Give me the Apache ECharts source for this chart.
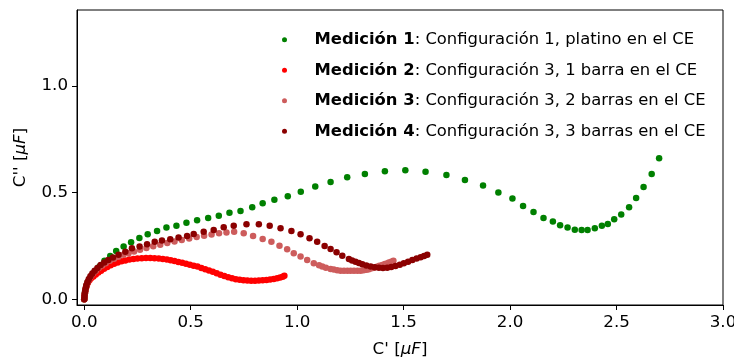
<!DOCTYPE html>
<html>
<head>
<meta charset="utf-8">
<script src="https://cdn.jsdelivr.net/npm/echarts@6/dist/echarts.min.js"></script>
<style>
  html, body { margin: 0; padding: 0; background: #fff; }
  #chart { width: 734px; height: 360px; }
</style>
</head>
<body>
<div id="chart"></div>
<script>
// series names and legend descriptions
const names = ['Medición 1', 'Medición 2', 'Medición 3', 'Medición 4']
const descriptions = [
  'Configuración 1, platino en el CE',
  'Configuración 3, 1 barra en el CE',
  'Configuración 3, 2 barras en el CE',
  'Configuración 3, 3 barras en el CE'
]
const colors = ['#008000', '#ff0000', '#cd5c5c', '#8b0000']
const xTicks = [0, 0.5, 1, 1.5, 2, 2.5, 3]
const yTicks = [0, 0.5, 1]

// [C', C''] pairs in uF
const medicion1 = [
  [0.000, 0.000], [0.001, 0.012], [0.003, 0.028], [0.006, 0.045], [0.010, 0.062], [0.016, 0.078],
  [0.024, 0.094], [0.035, 0.108], [0.048, 0.122], [0.072, 0.153], [0.095, 0.180], [0.122, 0.203],
  [0.150, 0.226], [0.185, 0.247], [0.220, 0.267], [0.259, 0.287], [0.298, 0.305], [0.342, 0.320],
  [0.386, 0.336], [0.433, 0.345], [0.480, 0.359], [0.530, 0.370], [0.582, 0.381], [0.632, 0.392],
  [0.682, 0.406], [0.734, 0.414], [0.789, 0.431], [0.838, 0.450], [0.893, 0.466], [0.956, 0.483],
  [1.017, 0.504], [1.085, 0.528], [1.157, 0.550], [1.235, 0.572], [1.318, 0.587], [1.412, 0.600],
  [1.508, 0.605], [1.603, 0.598], [1.701, 0.583], [1.788, 0.559], [1.873, 0.533], [1.945, 0.500],
  [2.011, 0.472], [2.061, 0.437], [2.110, 0.409], [2.157, 0.381], [2.201, 0.364], [2.235, 0.347],
  [2.270, 0.336], [2.304, 0.326], [2.336, 0.325], [2.364, 0.325], [2.398, 0.333], [2.431, 0.344],
  [2.459, 0.353], [2.489, 0.375], [2.522, 0.397], [2.559, 0.431], [2.592, 0.475], [2.627, 0.526],
  [2.665, 0.587], [2.700, 0.661]
]
const medicion2 = [
  [0.000, 0.000], [0.001, 0.010], [0.002, 0.020], [0.004, 0.032], [0.006, 0.044], [0.009, 0.056],
  [0.013, 0.068], [0.018, 0.080], [0.025, 0.090], [0.033, 0.099], [0.043, 0.107], [0.054, 0.116],
  [0.066, 0.125], [0.079, 0.134], [0.093, 0.143], [0.108, 0.151], [0.124, 0.159], [0.140, 0.166],
  [0.157, 0.172], [0.175, 0.178], [0.193, 0.182], [0.212, 0.186], [0.231, 0.189], [0.250, 0.191],
  [0.270, 0.192], [0.290, 0.193], [0.310, 0.193], [0.330, 0.192], [0.350, 0.191], [0.369, 0.189],
  [0.388, 0.186], [0.406, 0.183], [0.424, 0.179], [0.442, 0.175], [0.460, 0.171], [0.478, 0.166],
  [0.496, 0.162], [0.514, 0.157], [0.532, 0.153], [0.550, 0.147], [0.568, 0.141], [0.586, 0.135],
  [0.604, 0.129], [0.622, 0.122], [0.640, 0.115], [0.658, 0.109], [0.676, 0.103], [0.694, 0.098],
  [0.712, 0.094], [0.730, 0.091], [0.748, 0.089], [0.766, 0.088], [0.784, 0.087], [0.802, 0.087],
  [0.820, 0.088], [0.838, 0.089], [0.856, 0.090], [0.873, 0.092], [0.890, 0.095], [0.906, 0.098],
  [0.920, 0.102], [0.932, 0.106], [0.940, 0.110]
]
const medicion3 = [
  [0.000, 0.000], [0.001, 0.012], [0.003, 0.026], [0.005, 0.040], [0.008, 0.054], [0.012, 0.068],
  [0.017, 0.082], [0.024, 0.096], [0.032, 0.109], [0.042, 0.122], [0.054, 0.134], [0.068, 0.146],
  [0.084, 0.158], [0.101, 0.169], [0.120, 0.180], [0.140, 0.190], [0.161, 0.199], [0.184, 0.208],
  [0.208, 0.216], [0.234, 0.224], [0.262, 0.232], [0.292, 0.240], [0.324, 0.248], [0.357, 0.256],
  [0.390, 0.264], [0.424, 0.271], [0.458, 0.278], [0.493, 0.285], [0.528, 0.292], [0.563, 0.298],
  [0.598, 0.304], [0.633, 0.309], [0.668, 0.313], [0.704, 0.316], [0.749, 0.309], [0.793, 0.297],
  [0.838, 0.283], [0.879, 0.269], [0.917, 0.251], [0.953, 0.234], [0.984, 0.216], [1.016, 0.200],
  [1.047, 0.184], [1.078, 0.169], [1.103, 0.159], [1.118, 0.153], [1.135, 0.148], [1.157, 0.142],
  [1.172, 0.139], [1.188, 0.136], [1.204, 0.134], [1.220, 0.134], [1.236, 0.133], [1.251, 0.133],
  [1.267, 0.133], [1.283, 0.134], [1.298, 0.134], [1.312, 0.136], [1.326, 0.138], [1.337, 0.141],
  [1.350, 0.145], [1.362, 0.148], [1.374, 0.152], [1.386, 0.157], [1.400, 0.161], [1.412, 0.165],
  [1.422, 0.168], [1.431, 0.172], [1.442, 0.176], [1.452, 0.181]
]
const medicion4 = [
  [0.000, 0.000], [0.001, 0.012], [0.002, 0.025], [0.004, 0.038], [0.007, 0.052], [0.010, 0.066],
  [0.015, 0.080], [0.021, 0.094], [0.029, 0.108], [0.038, 0.121], [0.049, 0.134], [0.062, 0.147],
  [0.077, 0.160], [0.094, 0.172], [0.113, 0.184], [0.135, 0.196], [0.161, 0.208], [0.193, 0.223],
  [0.224, 0.239], [0.260, 0.247], [0.295, 0.258], [0.331, 0.270], [0.365, 0.275], [0.404, 0.281],
  [0.443, 0.289], [0.483, 0.297], [0.514, 0.306], [0.561, 0.316], [0.608, 0.325], [0.655, 0.338],
  [0.702, 0.344], [0.762, 0.352], [0.820, 0.352], [0.871, 0.344], [0.922, 0.333], [0.973, 0.320],
  [1.016, 0.305], [1.058, 0.286], [1.094, 0.270], [1.129, 0.250], [1.157, 0.236], [1.185, 0.220],
  [1.212, 0.204], [1.243, 0.189], [1.258, 0.182], [1.274, 0.176], [1.290, 0.170], [1.306, 0.164],
  [1.325, 0.158], [1.345, 0.153], [1.364, 0.150], [1.384, 0.148], [1.403, 0.147], [1.423, 0.148],
  [1.442, 0.151], [1.462, 0.156], [1.482, 0.162], [1.501, 0.169], [1.521, 0.176], [1.541, 0.184],
  [1.561, 0.191], [1.580, 0.197], [1.596, 0.203], [1.611, 0.208]
]
const allData = [medicion1, medicion2, medicion3, medicion4]

const font = 'DejaVu Sans'
const fontSize = 16.7
const chart = echarts.init(document.getElementById('chart'), null, { renderer: 'canvas' })

const plain = { fontFamily: font, fontSize: fontSize, color: '#000', lineHeight: 19.5 }
const richText = {
  n: plain,
  b: Object.assign({}, plain, { fontWeight: 'bold' }),
  i: Object.assign({}, plain, { fontStyle: 'italic' })
}
// legend text is a touch smaller than the axis text
const legendPlain = Object.assign({}, plain, { fontSize: 16.4 })
const legendRich = {
  n: legendPlain,
  b: Object.assign({}, legendPlain, { fontWeight: 'bold' })
}

function axisCommon (ticks) {
  return {
    type: 'value',
    nameLocation: 'middle',
    nameTextStyle: Object.assign({}, plain, { rich: richText }),
    splitLine: { show: false },
    axisLine: { show: true, onZero: false, lineStyle: { color: '#000', width: 1 } },
    axisTick: { show: true, inside: false, length: 5, customValues: ticks, lineStyle: { color: '#000' } },
    axisLabel: {
      margin: 9,
      fontFamily: font,
      fontSize: fontSize,
      color: '#000',
      customValues: ticks,
      formatter: v => v.toFixed(1)
    }
  }
}

const option = {
  animation: false,
  textStyle: { fontFamily: font },
  grid: {
    left: 77,
    right: 11,
    top: 10,
    bottom: 55,
    outerBoundsMode: 'none',
    containLabel: false,
    show: true,
    borderColor: '#000',
    borderWidth: 1
  },
  legend: {
    orient: 'vertical',
    left: 277,
    top: 25,
    icon: 'circle',
    itemWidth: 50,
    itemHeight: 5,
    itemGap: 11,
    selectedMode: false,
    data: names,
    formatter: function (name) {
      const i = names.indexOf(name)
      return '{b|' + name + '}{n|: ' + descriptions[i] + '}'
    },
    textStyle: Object.assign({}, legendPlain, { rich: legendRich })
  },
  xAxis: Object.assign(axisCommon(xTicks), {
    min: -0.034,
    max: 3.0,
    name: "{n|C' [}{i|μF}{n|]}",
    nameGap: 35
  }),
  yAxis: Object.assign(axisCommon(yTicks), {
    min: -0.027,
    max: 1.356,
    name: "{n|C'' [}{i|μF}{n|]}",
    nameGap: 47
  }),
  series: names.map((name, i) => ({
    name: name,
    type: 'scatter',
    symbol: 'circle',
    symbolSize: 6.5,
    itemStyle: { color: colors[i], opacity: 1 },
    emphasis: { disabled: true },
    data: allData[i]
  }))
}

chart.setOption(option)
</script>
</body>
</html>
